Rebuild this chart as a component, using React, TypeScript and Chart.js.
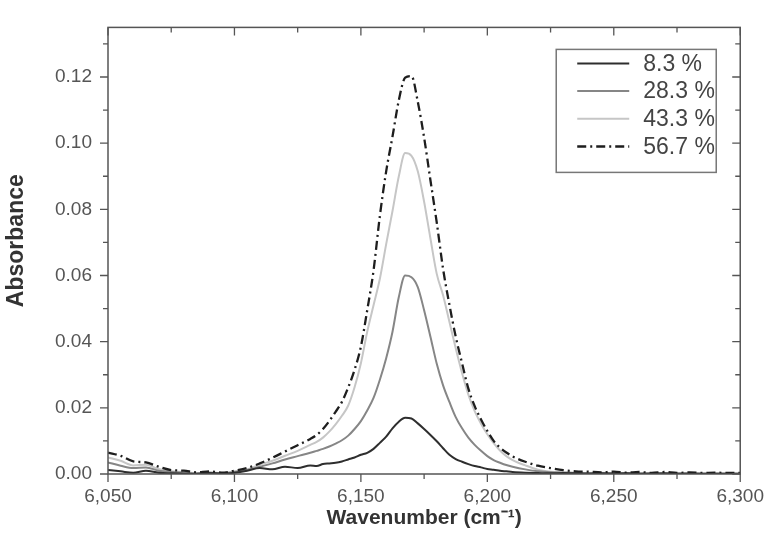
import { useEffect, useRef } from 'react';
import { Chart, registerables } from 'chart.js';

Chart.register(...registerables);

// Wavenumber grid (cm^-1)
const wavenumber = [
  6050, 6055, 6060, 6065, 6070, 6075, 6080, 6085, 6090, 6095, 6100, 6105, 6110, 6115, 6120, 6125, 6130,
  6132.5, 6135, 6137.5, 6140, 6142.5, 6145, 6147.5, 6150, 6152.5, 6155, 6157.5, 6160, 6162.5, 6165, 6167.5, 6170,
  6172.5, 6175, 6177.5, 6180, 6182.5, 6185, 6187.5, 6190, 6192.5, 6195, 6197.5, 6200, 6202.5, 6205, 6207.5, 6210,
  6215, 6220, 6225, 6230, 6235, 6240, 6245, 6250, 6255, 6260, 6265, 6270, 6275, 6280, 6285, 6290, 6295, 6300,
];

const absorbance83 = [
  0.0012, 0.0008, 0.0004, 0.0010, 0.0004, 0.0002, 0.0001, 0.0000, 0.0003, 0.0001, 0.0004, 0.0010, 0.0018, 0.0014, 0.0022, 0.0018, 0.0026,
  0.0024, 0.0030, 0.0032, 0.0034, 0.0038, 0.0044, 0.0050, 0.0058, 0.0064, 0.0076, 0.0094, 0.0113, 0.0138, 0.0158, 0.0170, 0.0168,
  0.0153, 0.0136, 0.0118, 0.0099, 0.0078, 0.0058, 0.0045, 0.0037, 0.0030, 0.0024, 0.0020, 0.0015, 0.0013, 0.0010, 0.0008, 0.0006,
  0.0004, 0.0003, 0.0002, 0.0003, 0.0002, 0.0001, 0.0002, 0.0001, 0.0002, 0.0001, 0.0001, 0.0002, 0.0001, 0.0001, 0.0001, 0.0001, 0.0001, 0.0001,
];

const absorbance283 = [
  0.0035, 0.0025, 0.0018, 0.0020, 0.0010, 0.0006, 0.0004, 0.0002, 0.0004, 0.0002, 0.0006, 0.0012, 0.0022, 0.0032, 0.0044, 0.0054, 0.0064,
  0.0070, 0.0076, 0.0083, 0.0092, 0.0102, 0.0116, 0.0136, 0.0160, 0.0192, 0.0230, 0.0285, 0.0350, 0.0430, 0.0535, 0.0600, 0.0595,
  0.0565, 0.0495, 0.0415, 0.0333, 0.0268, 0.0218, 0.0172, 0.0138, 0.0110, 0.0088, 0.0070, 0.0054, 0.0042, 0.0034, 0.0027, 0.0022,
  0.0014, 0.0008, 0.0005, 0.0004, 0.0003, 0.0003, 0.0002, 0.0002, 0.0002, 0.0001, 0.0002, 0.0001, 0.0001, 0.0002, 0.0001, 0.0001, 0.0001, 0.0001,
];

const absorbance433 = [
  0.0050, 0.0040, 0.0026, 0.0028, 0.0015, 0.0008, 0.0006, 0.0003, 0.0005, 0.0003, 0.0008, 0.0014, 0.0028, 0.0040, 0.0055, 0.0070, 0.0088,
  0.0097, 0.0110, 0.0128, 0.0150, 0.0176, 0.0207, 0.0262, 0.0335, 0.0430, 0.0510, 0.0590, 0.0695, 0.0795, 0.0900, 0.0970, 0.0962,
  0.0915, 0.0823, 0.0712, 0.0605, 0.0540, 0.0460, 0.0380, 0.0305, 0.0240, 0.0190, 0.0152, 0.0120, 0.0093, 0.0071, 0.0054, 0.0042,
  0.0026, 0.0013, 0.0007, 0.0005, 0.0004, 0.0003, 0.0004, 0.0002, 0.0003, 0.0002, 0.0003, 0.0002, 0.0002, 0.0002, 0.0001, 0.0002, 0.0001, 0.0001,
];

const absorbance567 = [
  0.0065, 0.0055, 0.0038, 0.0035, 0.0022, 0.0012, 0.0010, 0.0005, 0.0008, 0.0004, 0.0010, 0.0018, 0.0032, 0.0049, 0.0068, 0.0087, 0.0106,
  0.0118, 0.0136, 0.0160, 0.0188, 0.0218, 0.0262, 0.0315, 0.0385, 0.0495, 0.0615, 0.0780, 0.0915, 0.1020, 0.1130, 0.1198, 0.1203,
  0.1125, 0.1017, 0.0888, 0.0760, 0.0620, 0.0512, 0.0415, 0.0335, 0.0258, 0.0205, 0.0165, 0.0130, 0.0100, 0.0080, 0.0065, 0.0053,
  0.0037, 0.0025, 0.0018, 0.0012, 0.0008, 0.0007, 0.0005, 0.0007, 0.0004, 0.0006, 0.0003, 0.0006, 0.0003, 0.0005, 0.0003, 0.0004, 0.0003, 0.0003,
];

const seriesLabels = ['8.3 %', '28.3 %', '43.3 %', '56.7 %'];
const yAxisTitle = 'Absorbance';
const xAxisTitle = 'Wavenumber (cm⁻¹)';

const X_MIN = 6050;
const X_MAX = 6300;
const Y_MIN = 0;
const Y_MAX = 0.135;

const FONT = '"Liberation Sans", Arial, Helvetica, sans-serif';

function toPoints(values: number[]) {
  return wavenumber.map((w, i) => ({ x: w, y: values[i] }));
}

function formatWavenumber(v: number) {
  const th = Math.floor(v / 1000);
  const rest = String(Math.round(v % 1000)).padStart(3, '0');
  return `${th},${rest}`;
}

const frameTicksPlugin = {
  id: 'frameTicks',
  afterDraw(chart: any) {
    const { ctx, chartArea: a, scales } = chart;
    const xs = scales.x;
    const ys = scales.y;
    ctx.save();
    ctx.strokeStyle = '#555';
    ctx.lineWidth = 1.5;
    ctx.strokeRect(a.left, a.top, a.right - a.left, a.bottom - a.top);
    ctx.lineWidth = 1.3;
    ctx.beginPath();
    xs.ticks.forEach((t: any) => {
      const px = xs.getPixelForValue(t.value);
      const major = Math.round(t.value) % 50 === 0;
      const len = major ? 8 : 5;
      ctx.moveTo(px, a.bottom);
      ctx.lineTo(px, a.bottom + len);
      ctx.moveTo(px, a.top);
      ctx.lineTo(px, a.top + len);
    });
    ys.ticks.forEach((t: any) => {
      const py = ys.getPixelForValue(t.value);
      const major = Math.round(t.value * 100) % 2 === 0;
      const len = major ? 8 : 5;
      ctx.moveTo(a.left, py);
      ctx.lineTo(a.left - len, py);
      ctx.moveTo(a.right, py);
      ctx.lineTo(a.right - len, py);
    });
    ctx.stroke();

    // y-axis title
    ctx.save();
    ctx.translate(17, (a.top + a.bottom) / 2 - 10);
    ctx.rotate(-Math.PI / 2);
    ctx.fillStyle = '#333';
    ctx.font = `bold 23px ${FONT}`;
    ctx.textAlign = 'center';
    ctx.textBaseline = 'middle';
    ctx.fillText(yAxisTitle, 0, 0);
    ctx.restore();

    ctx.restore();
  },
};

const boxLegendPlugin = {
  id: 'boxLegend',
  afterDraw(chart: any) {
    const { ctx, chartArea: a } = chart;
    const bw = 160;
    const bh = 123;
    const bx = a.right - 184;
    const by = a.top + 22;
    ctx.save();
    ctx.fillStyle = '#ffffff';
    ctx.fillRect(bx, by, bw, bh);
    ctx.strokeStyle = '#777';
    ctx.lineWidth = 1.5;
    ctx.strokeRect(bx, by, bw, bh);
    chart.data.datasets.forEach((ds: any, i: number) => {
      const cy = by + 14 + i * 27.7;
      ctx.strokeStyle = ds.borderColor;
      ctx.lineWidth = ds.borderWidth;
      ctx.setLineDash(ds.borderDash || []);
      ctx.beginPath();
      ctx.moveTo(bx + 21, cy);
      ctx.lineTo(bx + 73, cy);
      ctx.stroke();
      ctx.setLineDash([]);
      ctx.fillStyle = '#444';
      ctx.font = `23px ${FONT}`;
      ctx.textBaseline = 'middle';
      ctx.textAlign = 'left';
      ctx.fillText(ds.label, bx + 87, cy + 1);
    });
    ctx.restore();
  },
};

export default function App() {
  const canvasRef = useRef<HTMLCanvasElement | null>(null);

  useEffect(() => {
    document.body.style.margin = '0';
    const canvas = canvasRef.current;
    if (!canvas) return;

    const common = {
      pointRadius: 0,
      fill: false,
      cubicInterpolationMode: 'monotone' as const,
    };

    const chart = new Chart(canvas, {
      type: 'line',
      data: {
        datasets: [
          { ...common, label: seriesLabels[0], data: toPoints(absorbance83), borderColor: '#2e2e2e', borderWidth: 2, order: 1 },
          { ...common, label: seriesLabels[1], data: toPoints(absorbance283), borderColor: '#868686', borderWidth: 2, order: 2 },
          { ...common, label: seriesLabels[2], data: toPoints(absorbance433), borderColor: '#c6c6c6', borderWidth: 2, order: 3 },
          { ...common, label: seriesLabels[3], data: toPoints(absorbance567), borderColor: '#1e1e1e', borderWidth: 2.3, borderDash: [9, 4, 2, 4], order: 0 },
        ],
      },
      options: {
        responsive: false,
        animation: false,
        layout: { padding: { top: 9, right: 29, left: 0, bottom: 0 } },
        plugins: {
          legend: { display: false },
          tooltip: { enabled: false },
        },
        scales: {
          x: {
            type: 'linear',
            min: X_MIN,
            max: X_MAX,
            grid: { display: false, drawTicks: false },
            border: { display: false },
            ticks: {
              stepSize: 25,
              autoSkip: false,
              maxRotation: 0,
              padding: 11,
              color: '#555',
              font: { family: FONT, size: 19 },
              callback: (v: any) => (Math.round(Number(v)) % 50 === 0 ? formatWavenumber(Number(v)) : ''),
            },
            title: {
              display: true,
              text: xAxisTitle,
              color: '#333',
              font: { family: FONT, size: 21, weight: 'bold' },
              padding: { top: 0, bottom: 25 },
            },
            afterFit: (scale: any) => {
              scale.height = 82;
            },
          },
          y: {
            type: 'linear',
            min: Y_MIN,
            max: Y_MAX,
            grid: { display: false, drawTicks: false },
            border: { display: false },
            ticks: {
              stepSize: 0.01,
              includeBounds: false,
              autoSkip: false,
              padding: 16,
              color: '#555',
              font: { family: FONT, size: 19 },
              callback: (v: any) => {
                const n = Math.round(Number(v) * 100);
                return n % 2 === 0 ? (n / 100).toFixed(2) : '';
              },
            },
            title: { display: false },
            afterFit: (scale: any) => {
              scale.width = 108;
            },
          },
        },
      },
      plugins: [frameTicksPlugin, boxLegendPlugin],
    });

    return () => {
      chart.destroy();
    };
  }, []);

  return (
    <div style={{ width: 775, height: 556, background: '#fff' }}>
      <canvas ref={canvasRef} width={775} height={556} style={{ display: 'block' }} />
    </div>
  );
}
